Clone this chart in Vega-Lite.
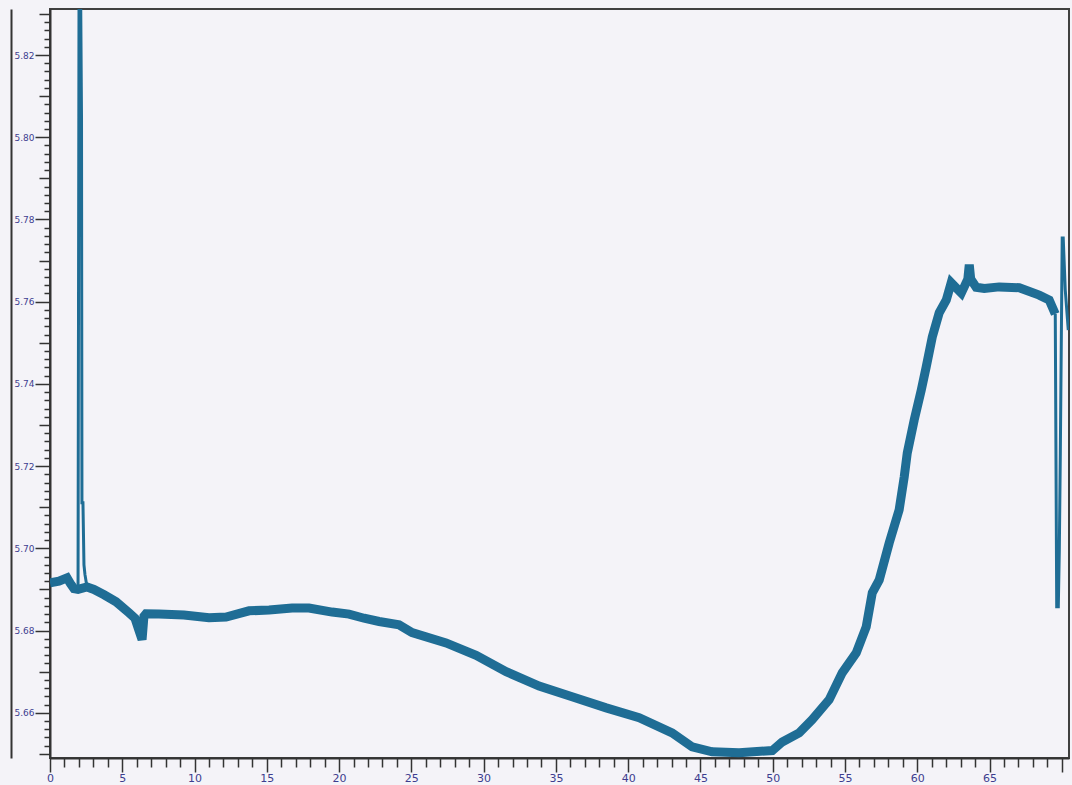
{
  "$schema": "https://vega.github.io/schema/vega-lite/v6.json",
  "autosize": {"type": "none"},
  "width": 1019,
  "height": 749,
  "padding": {"left": 50, "top": 9, "right": 3, "bottom": 27},
  "background": "#f4f3f8",
  "view": {"stroke": "#404040", "strokeWidth": 2, "fill": "#f4f3f8"},
  "data": {"values": [
    {"t": 0, "v": 5.6916, "kind": "base", "grp": "a"}, {"t": 0.62, "v": 5.6920, "kind": "base", "grp": "a"}, {"t": 1.18, "v": 5.6928, "kind": "base", "grp": "a"}, {"t": 1.40, "v": 5.6915, "kind": "base", "grp": "a"},
    {"t": 1.66, "v": 5.6902, "kind": "base", "grp": "a"}, {"t": 1.94, "v": 5.6900, "kind": "joint", "grp": "a"},
    {"t": 2.01, "v": 5.84, "kind": "spike", "grp": "a"}, {"t": 2.11, "v": 5.84, "kind": "spike", "grp": "a"}, {"t": 2.18, "v": 5.8049, "kind": "spike", "grp": "a"}, {"t": 2.21, "v": 5.7111, "kind": "spike", "grp": "a"},
    {"t": 2.28, "v": 5.7111, "kind": "spike", "grp": "a"}, {"t": 2.35, "v": 5.6960, "kind": "spike", "grp": "a"}, {"t": 2.42, "v": 5.6936, "kind": "spike", "grp": "a"},
    {"t": 2.56, "v": 5.6906, "kind": "joint", "grp": "a"},
    {"t": 3.04, "v": 5.6900, "kind": "base", "grp": "a"}, {"t": 3.74, "v": 5.6887, "kind": "base", "grp": "a"}, {"t": 4.57, "v": 5.6870, "kind": "base", "grp": "a"}, {"t": 5.47, "v": 5.6843, "kind": "base", "grp": "a"},
    {"t": 5.88, "v": 5.6830, "kind": "base", "grp": "a"}, {"t": 6.16, "v": 5.6800, "kind": "base", "grp": "a"}, {"t": 6.37, "v": 5.6778, "kind": "base", "grp": "a"}, {"t": 6.50, "v": 5.6835, "kind": "base", "grp": "a"},
    {"t": 6.64, "v": 5.6841, "kind": "base", "grp": "a"}, {"t": 7.54, "v": 5.6840, "kind": "base", "grp": "a"}, {"t": 9.27, "v": 5.6838, "kind": "base", "grp": "a"}, {"t": 11.0, "v": 5.6831, "kind": "base", "grp": "a"},
    {"t": 12.18, "v": 5.6833, "kind": "base", "grp": "a"}, {"t": 13.77, "v": 5.6848, "kind": "base", "grp": "a"}, {"t": 15.16, "v": 5.6850, "kind": "base", "grp": "a"}, {"t": 16.75, "v": 5.6855, "kind": "base", "grp": "a"},
    {"t": 17.92, "v": 5.6855, "kind": "base", "grp": "a"}, {"t": 19.52, "v": 5.6845, "kind": "base", "grp": "a"}, {"t": 20.69, "v": 5.6840, "kind": "base", "grp": "a"}, {"t": 21.73, "v": 5.6830, "kind": "base", "grp": "a"},
    {"t": 22.77, "v": 5.6822, "kind": "base", "grp": "a"}, {"t": 24.15, "v": 5.6814, "kind": "base", "grp": "a"}, {"t": 25.05, "v": 5.6795, "kind": "base", "grp": "a"}, {"t": 27.40, "v": 5.6770, "kind": "base", "grp": "a"},
    {"t": 29.48, "v": 5.6740, "kind": "base", "grp": "a"}, {"t": 31.56, "v": 5.6700, "kind": "base", "grp": "b"}, {"t": 33.84, "v": 5.6665, "kind": "base", "grp": "b"}, {"t": 36.12, "v": 5.6639, "kind": "base", "grp": "b"},
    {"t": 38.48, "v": 5.6612, "kind": "base", "grp": "b"}, {"t": 40.76, "v": 5.6588, "kind": "base", "grp": "b"}, {"t": 43.04, "v": 5.6551, "kind": "base", "grp": "b"}, {"t": 44.43, "v": 5.6517, "kind": "base", "grp": "b"},
    {"t": 45.81, "v": 5.6505, "kind": "base", "grp": "b"}, {"t": 47.68, "v": 5.6503, "kind": "base", "grp": "b"}, {"t": 49.97, "v": 5.6508, "kind": "base", "grp": "b"}, {"t": 50.66, "v": 5.6529, "kind": "base", "grp": "b"},
    {"t": 51.83, "v": 5.6551, "kind": "base", "grp": "b"}, {"t": 52.73, "v": 5.6583, "kind": "base", "grp": "b"}, {"t": 53.91, "v": 5.6632, "kind": "base", "grp": "b"}, {"t": 54.81, "v": 5.6697, "kind": "base", "grp": "b"},
    {"t": 55.78, "v": 5.6746, "kind": "base", "grp": "b"}, {"t": 56.47, "v": 5.6809, "kind": "base", "grp": "b"}, {"t": 56.89, "v": 5.6892, "kind": "base", "grp": "b"}, {"t": 57.37, "v": 5.6923, "kind": "base", "grp": "b"},
    {"t": 58.06, "v": 5.7013, "kind": "base", "grp": "b"}, {"t": 58.75, "v": 5.7094, "kind": "base", "grp": "b"}, {"t": 59.10, "v": 5.7174, "kind": "base", "grp": "b"}, {"t": 59.31, "v": 5.7232, "kind": "base", "grp": "b"},
    {"t": 59.79, "v": 5.7312, "kind": "base", "grp": "b"}, {"t": 60.28, "v": 5.7385, "kind": "base", "grp": "b"}, {"t": 60.62, "v": 5.7441, "kind": "base", "grp": "b"}, {"t": 61.04, "v": 5.7514, "kind": "base", "grp": "b"},
    {"t": 61.52, "v": 5.7573, "kind": "base", "grp": "b"}, {"t": 62.01, "v": 5.7604, "kind": "base", "grp": "b"}, {"t": 62.35, "v": 5.7646, "kind": "base", "grp": "b"}, {"t": 63.05, "v": 5.7621, "kind": "base", "grp": "b"},
    {"t": 63.50, "v": 5.7655, "kind": "base", "grp": "b"}, {"t": 63.60, "v": 5.7690, "kind": "base", "grp": "b"}, {"t": 63.70, "v": 5.7655, "kind": "base", "grp": "b"}, {"t": 64.08, "v": 5.7635, "kind": "base", "grp": "b"},
    {"t": 64.64, "v": 5.7632, "kind": "base", "grp": "b"}, {"t": 65.67, "v": 5.7636, "kind": "base", "grp": "b"}, {"t": 67.06, "v": 5.7634, "kind": "base", "grp": "b"}, {"t": 68.44, "v": 5.7616, "kind": "base", "grp": "b"},
    {"t": 69.13, "v": 5.7604, "kind": "base", "grp": "b"}, {"t": 69.34, "v": 5.7587, "kind": "base", "grp": "b"},
    {"t": 69.55, "v": 5.7570, "kind": "joint", "grp": "b"},
    {"t": 69.65, "v": 5.6858, "kind": "spike", "grp": "b"}, {"t": 69.76, "v": 5.6858, "kind": "spike", "grp": "b"}, {"t": 69.83, "v": 5.6996, "kind": "spike", "grp": "b"}, {"t": 69.90, "v": 5.7232, "kind": "spike", "grp": "b"},
    {"t": 70.03, "v": 5.7755, "kind": "spike", "grp": "b"}, {"t": 70.10, "v": 5.7755, "kind": "spike", "grp": "b"}, {"t": 70.24, "v": 5.7629, "kind": "spike", "grp": "b"}, {"t": 70.45, "v": 5.7531, "kind": "spike", "grp": "b"}
  ]},
  "encoding": {
    "x": {
      "field": "t", "type": "quantitative",
      "scale": {"domain": [0, 70.5], "nice": false, "zero": false},
      "axis": {
        "title": null, "grid": false,
        "values": [0,1,2,3,4,5,6,7,8,9,10,11,12,13,14,15,16,17,18,19,20,21,22,23,24,25,26,27,28,29,30,31,32,33,34,35,36,37,38,39,40,41,42,43,44,45,46,47,48,49,50,51,52,53,54,55,56,57,58,59,60,61,62,63,64,65,66,67,68,69,70],
        "labelExpr": "datum.value % 5 === 0 && datum.value < 70 ? datum.label : ''",
        "labelOverlap": false, "labelFlush": false, "labelBound": false,
        "tickSize": {"condition": {"test": "datum.value % 5 === 0", "value": 14}, "value": 9},
        "tickColor": "#333333", "tickWidth": 1.5,
        "domainColor": "#333333", "domainWidth": 2,
        "labelColor": "#3d3d8f", "labelFont": "DejaVu Sans", "labelFontSize": 11, "labelPadding": 0
      }
    }
  },
  "layer": [
    {
      "transform": [{"filter": "datum.kind !== 'spike'"}],
      "mark": {"type": "line", "color": "#1f6d95", "strokeWidth": 9, "clip": true},
      "encoding": {
        "y": {
          "field": "v", "type": "quantitative",
          "scale": {"domain": [5.649, 5.8312], "nice": false, "zero": false},
          "axis": {
            "title": null, "grid": false,
            "values": [5.650,5.652,5.654,5.656,5.658,5.660,5.662,5.664,5.666,5.668,5.670,5.672,5.674,5.676,5.678,5.680,5.682,5.684,5.686,5.688,5.690,5.692,5.694,5.696,5.698,5.700,5.702,5.704,5.706,5.708,5.710,5.712,5.714,5.716,5.718,5.720,5.722,5.724,5.726,5.728,5.730,5.732,5.734,5.736,5.738,5.740,5.742,5.744,5.746,5.748,5.750,5.752,5.754,5.756,5.758,5.760,5.762,5.764,5.766,5.768,5.770,5.772,5.774,5.776,5.778,5.780,5.782,5.784,5.786,5.788,5.790,5.792,5.794,5.796,5.798,5.800,5.802,5.804,5.806,5.808,5.810,5.812,5.814,5.816,5.818,5.820,5.822,5.824,5.826,5.828,5.830],
            "format": ".2f",
            "labelExpr": "round(datum.value*1000) % 20 === 0 ? datum.label : ''",
            "labelOverlap": false, "labelFlush": false, "labelBound": false,
            "tickSize": {"condition": [
              {"test": "round(datum.value*1000) % 20 === 0", "value": 15},
              {"test": "round(datum.value*1000) % 10 === 0", "value": 11}
            ], "value": 6},
            "tickColor": "#333333", "tickWidth": 1.5,
            "domainColor": "#333333", "domainWidth": 2,
            "labelColor": "#3d3d8f", "labelFont": "DejaVu Sans", "labelFontSize": 9, "labelPadding": 1
          }
        }
      }
    },
    {
      "transform": [{"filter": "datum.kind !== 'base'"}],
      "mark": {"type": "line", "color": "#1f6d95", "strokeWidth": 3, "clip": true},
      "encoding": {
        "y": {"field": "v", "type": "quantitative", "axis": null},
        "detail": {"field": "grp"}
      }
    },
    {
      "mark": {"type": "line", "opacity": 0},
      "encoding": {
        "y": {
          "field": "v", "type": "quantitative",
          "axis": {"orient": "left", "offset": 39, "title": null, "grid": false, "ticks": false, "labels": false, "domainColor": "#333333", "domainWidth": 2}
        }
      }
    }
  ],
  "resolve": {"axis": {"y": "independent"}}
}
